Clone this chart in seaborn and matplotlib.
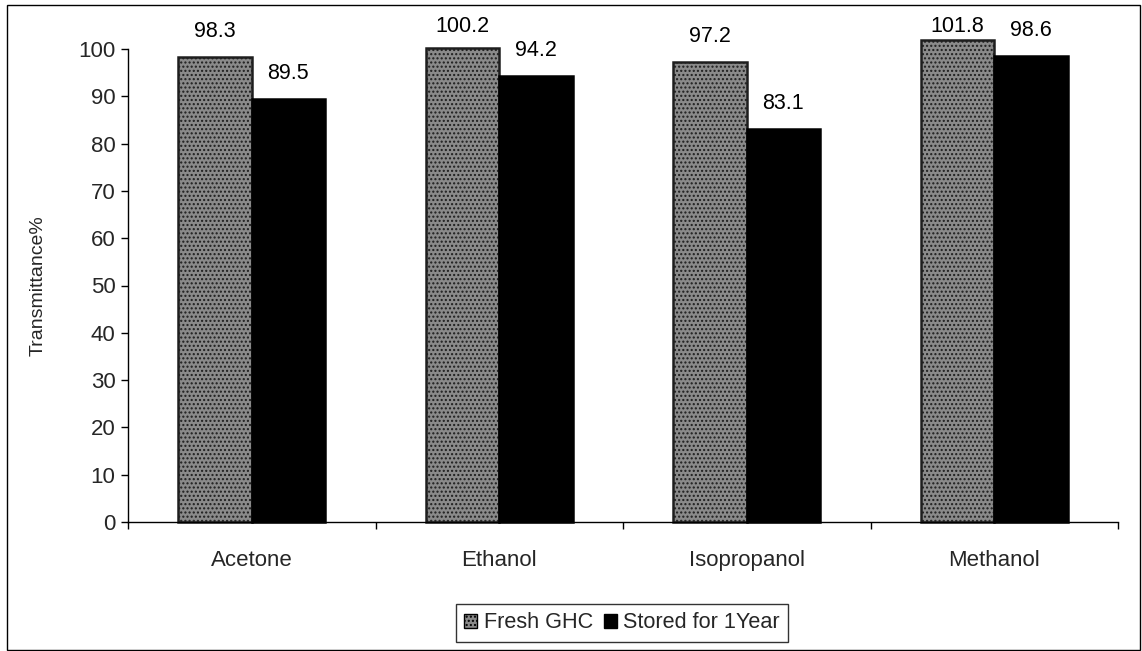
import matplotlib
matplotlib.use("Agg")
import matplotlib.pyplot as plt
from matplotlib.patches import Rectangle
from matplotlib.ticker import FixedLocator, MultipleLocator
import pandas as pd
import seaborn as sns

# Transmittance of the gel in each solvent, fresh vs. after one year of storage
solvents = ["Acetone", "Ethanol", "Isopropanol", "Methanol"]
fresh = [98.3, 100.2, 97.2, 101.8]
stored = [89.5, 94.2, 83.1, 98.6]
series_names = ["Fresh GHC", "Stored for 1Year"]

df = pd.DataFrame({
    "Solvent": solvents * 2,
    "Transmittance": fresh + stored,
    "Sample": [series_names[0]] * len(solvents) + [series_names[1]] * len(solvents),
})

sns.set_theme(style="white")
plt.rcParams["font.family"] = ["Liberation Sans", "DejaVu Sans"]

W, H = 1142, 651
fig = plt.figure(figsize=(W / 100, H / 100), dpi=100)
ax = fig.add_axes([128 / W, 1 - 522 / H, 990 / W, 473 / H])

palette = {series_names[0]: "#8a8a8a", series_names[1]: "#000000"}
sns.barplot(data=df, x="Solvent", y="Transmittance", hue="Sample",
            order=solvents, hue_order=series_names, palette=palette,
            width=0.592, saturation=1, edgecolor="black", linewidth=1.8,
            legend=False, ax=ax)

ax.set_ylim(0, 100)
ax.set_xlim(-0.5, len(solvents) - 0.5)

# stippled texture on the fresh-sample bars; values printed above each bar,
# kept below the top edge of the chart area
for cont, name in zip(ax.containers, series_names):
    for bar in cont:
        bar.set_clip_on(False)
        if name == series_names[0]:
            bar.set_hatch("....")
            bar.set_edgecolor("#1e1e1e")
        xc = bar.get_x() + bar.get_width() / 2
        val = bar.get_height()
        top_px = H - ax.transData.transform((xc, val))[1]
        lift = min(20, top_px - 32)
        ax.annotate(f"{val:.1f}", xy=(xc, val), xytext=(0, lift),
                    textcoords="offset pixels", ha="center", va="baseline",
                    fontsize=15.5, color="black", annotation_clip=False)

ax.yaxis.set_major_locator(MultipleLocator(10))
ax.set_xlabel("")
ax.set_ylabel("Transmittance%", fontsize=14)
ax.yaxis.set_label_coords(-0.082, 0.5)

for side in ("top", "right"):
    ax.spines[side].set_visible(False)
for side in ("left", "bottom"):
    ax.spines[side].set_color("black")
    ax.spines[side].set_linewidth(1.0)

ax.tick_params(axis="y", left=True, length=5, width=1, color="black",
               labelsize=16, pad=4)
ax.tick_params(axis="x", which="major", bottom=False, labelsize=16, pad=14)
ax.xaxis.set_minor_locator(FixedLocator([i - 0.5 for i in range(len(solvents) + 1)]))
ax.tick_params(axis="x", which="minor", bottom=True, length=5, width=1, color="black")

# legend across the bottom of the chart area
handles = [Rectangle((0, 0), 1, 1, facecolor=palette[n], edgecolor="black",
                     hatch="...." if i == 0 else None)
           for i, n in enumerate(series_names)]
leg = fig.legend(handles, series_names, loc="center",
                 bbox_to_anchor=(622 / W, 1 - 623 / H), ncol=2,
                 fontsize=15.6, frameon=True, fancybox=False,
                 handlelength=0.6, handleheight=0.6, handletextpad=0.3,
                 columnspacing=0.5, borderpad=0.38, borderaxespad=0)
leg.get_frame().set_edgecolor("black")
leg.get_frame().set_linewidth(1.0)

# outer chart border
fig.patches.append(Rectangle((7 / W, 1 - 650 / H), 1133 / W, 645 / H,
                             transform=fig.transFigure, fill=False,
                             edgecolor="black", linewidth=1.0))

fig.savefig("out.png", dpi=100)
